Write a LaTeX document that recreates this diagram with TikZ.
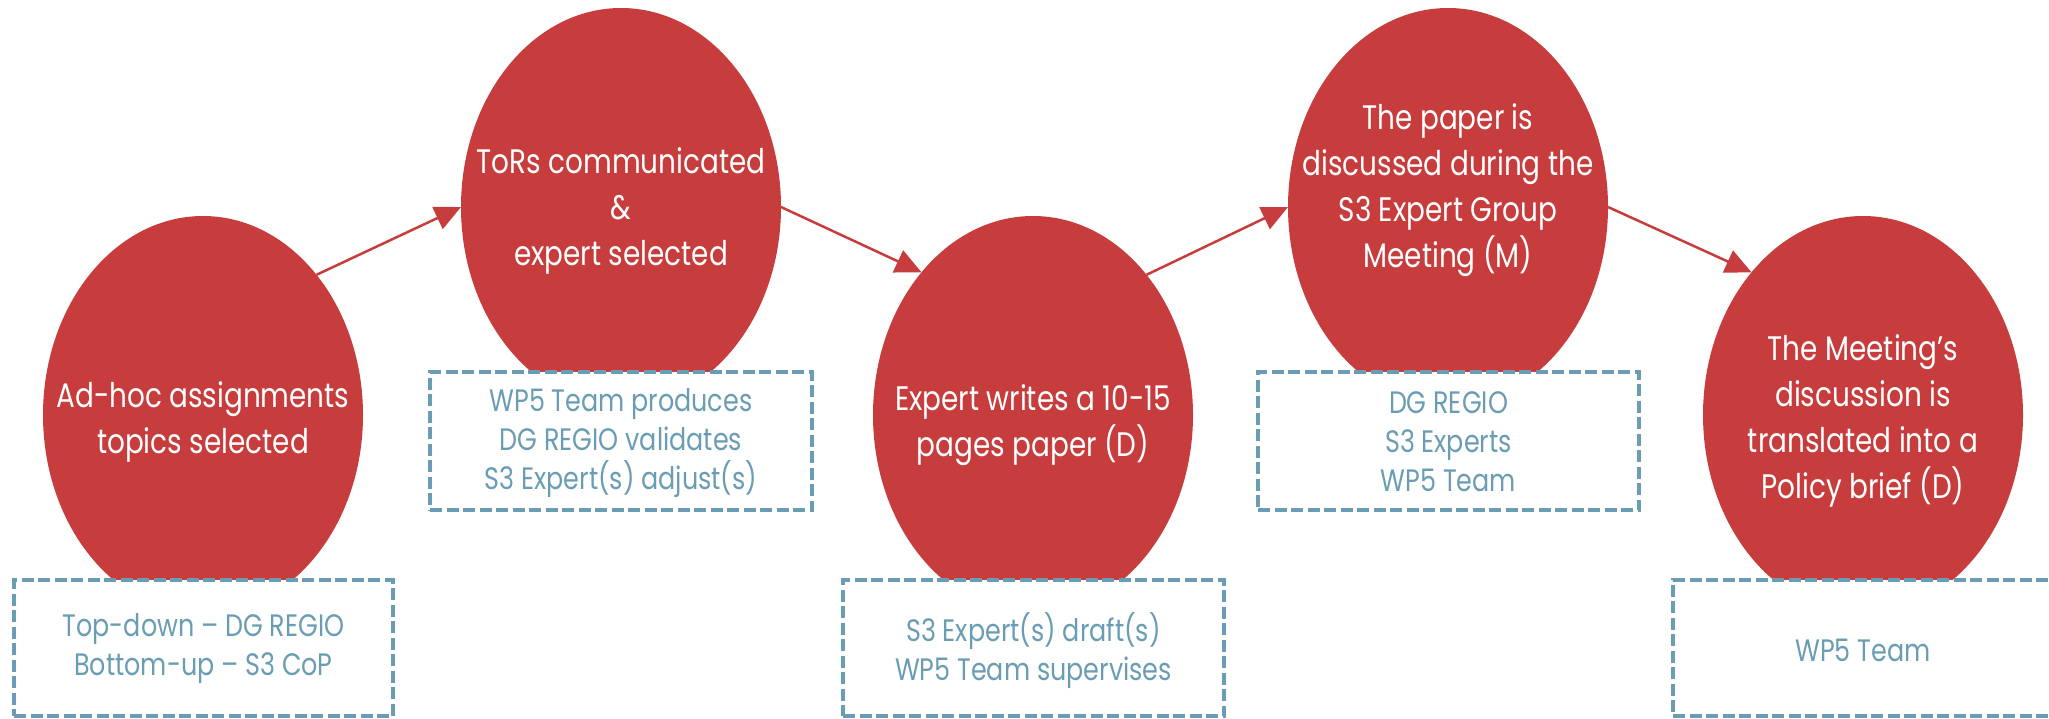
\documentclass[tikz,border=0pt]{standalone}
\usepackage{fontspec}
\setmainfont{Poppins}[FakeStretch=0.82]
\usetikzlibrary{shapes.geometric,arrows.meta}
\definecolor{stepred}{HTML}{C73C3C}
\definecolor{roleblue}{HTML}{6A9DB4}
\tikzset{
  stepoval/.style={ellipse, fill=stepred, draw=none, minimum width=320pt,
    minimum height=398pt, inner sep=0pt, outer sep=0pt},
  steptext/.style={text=white, align=center, inner sep=0pt,
    font=\fontsize{34pt}{46pt}\selectfont},
  rolebox/.style={rectangle, fill=white, draw=roleblue, line width=3.5pt,
    dash pattern=on 12pt off 4.5pt, inner sep=0pt},
  roletext/.style={text=roleblue, align=center, inner sep=0pt,
    font=\fontsize{31pt}{39pt}\selectfont},
  flow/.style={draw=stepred, line width=2.5pt,
    -{Triangle[length=26pt,width=24pt]}}
}
\begin{document}
\begin{tikzpicture}[x=1pt,y=-1pt]
\clip (0,0) rectangle (2049,718);
\fill[white] (0,0) rectangle (2049,718);

% process steps
\node[stepoval] (e1) at (203,415) {};
\node[stepoval] (e2) at (621,207) {};
\node[stepoval] (e3) at (1033,415) {};
\node[stepoval] (e4) at (1448,207) {};
\node[stepoval] (e5) at (1863,415) {};

% who is involved at each step
\node[rolebox, minimum width=379pt, minimum height=136pt] (b1) at (203.5,648) {};
\node[rolebox, minimum width=382pt, minimum height=138pt] (b2) at (621,441) {};
\node[rolebox, minimum width=381pt, minimum height=136pt] (b3) at (1033.5,648) {};
\node[rolebox, minimum width=381pt, minimum height=138pt] (b4) at (1448.5,441) {};
\node[rolebox, minimum width=400pt, minimum height=136pt] (b5) at (1873,648) {};

% step labels
\node[steptext] (t1) at (203,422) {Ad-hoc assignments\\topics selected};
\node[steptext] (t2) at (621,211) {ToRs communicated\\\&\\expert selected};
\node[steptext] (t3) at (1033,425) {Expert writes a 10-15\\pages paper (D)};
\node[steptext] (t4) at (1448,190) {The paper is\\discussed during the\\S3 Expert Group\\Meeting (M)};
\node[steptext] (t5) at (1863,421) {The Meeting’s\\discussion is\\translated into a\\Policy brief (D)};

% role labels
\node[roletext] (r1) at (203.5,649) {Top-down – DG REGIO\\Bottom-up – S3 CoP};
\node[roletext] (r2) at (621,443) {WP5 Team produces\\DG REGIO validates\\S3 Expert(s) adjust(s)};
\node[roletext] (r3) at (1033.5,651) {S3 Expert(s) draft(s)\\WP5 Team supervises};
\node[roletext] (r4) at (1448.5,442) {DG REGIO\\S3 Experts\\WP5 Team};
\node[roletext] (r5) at (1863,650) {WP5 Team};

% flow between steps
\draw[flow] (e1.51) -- (e2.west);
\draw[flow] (e2.east) -- (e3.128.5);
\draw[flow] (e3.51) -- (e4.west);
\draw[flow] (e4.east) -- (e5.128.5);
\end{tikzpicture}
\end{document}
